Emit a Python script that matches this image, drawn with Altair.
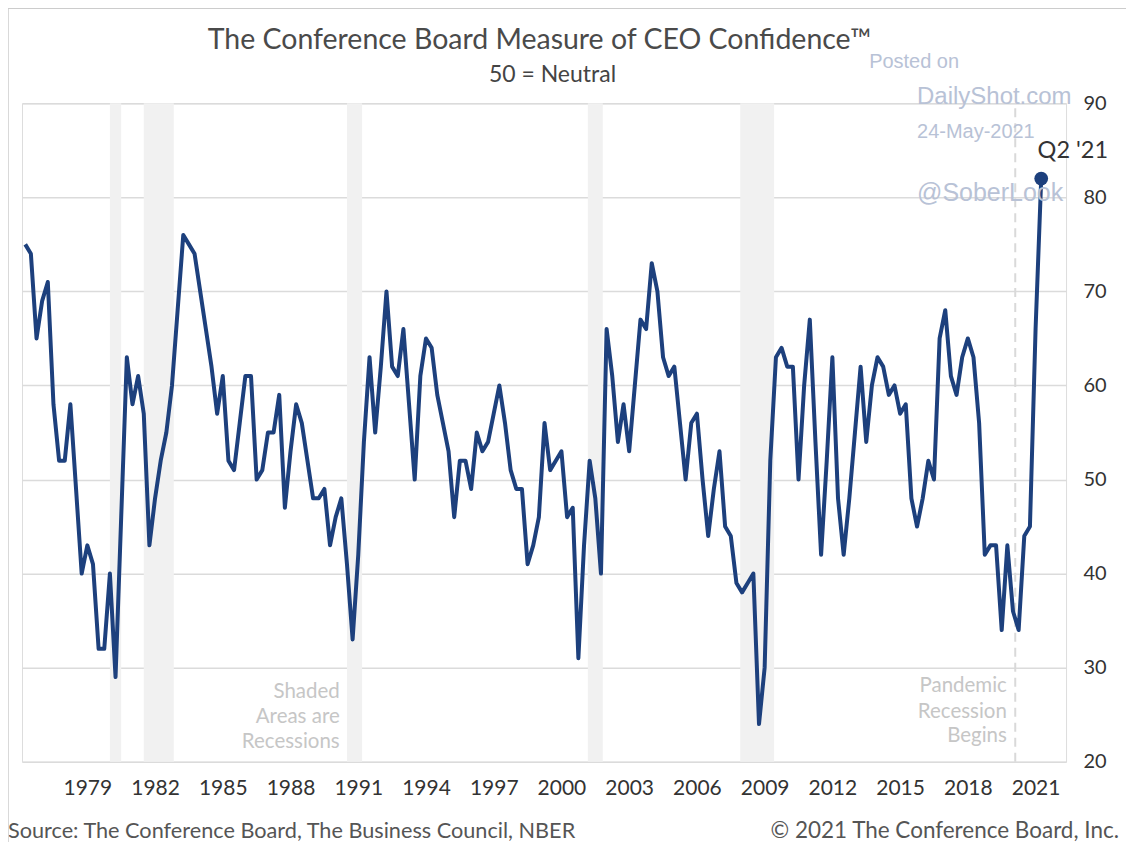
import altair as alt
import pandas as pd

# ---------------- data (quarterly, 1976 Q2 .. 2021 Q2) ----------------
first_period = 1976.25          # 1976 Q2
confidence = [
    75, 74, 65,                 # 1976 Q2-Q4
    69, 71, 58, 52,             # 1977
    52, 58, 49, 40,             # 1978
    43, 41, 32, 32,             # 1979
    40, 29, 46, 63,             # 1980
    58, 61, 57, 43,             # 1981
    48, 52, 55, 60,             # 1982
    68, 76, 75, 74,             # 1983
    70, 66, 62, 57,             # 1984
    61, 52, 51, 56,             # 1985
    61, 61, 50, 51,             # 1986
    55, 55, 59, 47,             # 1987
    53, 58, 56, 52,             # 1988
    48, 48, 49, 43,             # 1989
    46, 48, 41, 33,             # 1990
    42, 54, 63, 55,             # 1991
    62, 70, 62, 61,             # 1992
    66, 58, 50, 61,             # 1993
    65, 64, 59, 56,             # 1994
    53, 46, 52, 52,             # 1995
    49, 55, 53, 54,             # 1996
    57, 60, 56, 51,             # 1997
    49, 49, 41, 43,             # 1998
    46, 56, 51, 52,             # 1999
    53, 46, 47, 31,             # 2000
    43, 52, 48, 40,             # 2001
    66, 61, 54, 58,             # 2002
    53, 60, 67, 66,             # 2003
    73, 70, 63, 61,             # 2004
    62, 56, 50, 56,             # 2005
    57, 50, 44, 49,             # 2006
    53, 45, 44, 39,             # 2007
    38, 39, 40, 24,             # 2008
    30, 52, 63, 64,             # 2009
    62, 62, 50, 60,             # 2010
    67, 54, 42, 52,             # 2011
    63, 48, 42, 48,             # 2012
    55, 62, 54, 60,             # 2013
    63, 62, 59, 60,             # 2014
    57, 58, 48, 45,             # 2015
    48, 52, 50, 65,             # 2016
    68, 61, 59, 63,             # 2017
    65, 63, 56, 42,             # 2018
    43, 43, 34, 43,             # 2019
    36, 34, 44, 45,             # 2020
    66, 82,                     # 2021 Q1-Q2
]

rec_start = [1980.0, 1981.5, 1990.5, 2001.17, 2007.92]
rec_end = [1980.5, 1982.83, 1991.17, 2001.83, 2009.42]
pandemic_start = 2020.1

tick_years = list(range(1979, 2022, 3))
y_ticks = [20, 30, 40, 50, 60, 70, 80, 90]

# ---------------- tables ----------------
periods = [first_period + 0.25 * i for i in range(len(confidence))]
df = pd.DataFrame({"t": periods, "v": confidence})
last = df.tail(1)
rec = pd.DataFrame({"s": rec_start, "e": rec_end, "lo": 20, "hi": 90})
pand = pd.DataFrame({"t": [pandemic_start], "lo": [20], "hi": [90]})

notes = pd.DataFrame({
    "t": [1990.18, 1990.18, 1990.18, 2019.73, 2019.73, 2019.73],
    "v": [27.4, 24.8, 22.1, 28.0, 25.3, 22.7],
    "label": ["Shaded", "Areas are", "Recessions", "Pandemic", "Recession", "Begins"],
})
q2 = pd.DataFrame({"t": [2022.65], "v": [84.9], "label": ["Q2 '21"]})
wm_center = pd.DataFrame({"t": [2015.62], "v": [94.4], "label": ["Posted on"]})
wm_left = pd.DataFrame({
    "t": [2015.75, 2015.75, 2015.75],
    "v": [90.7, 87.0, 80.5],
    "label": ["DailyShot.com", "24-May-2021", "@SoberLook"],
    "size": [24, 20, 25],
})

FONT = "Lato"
NAVY = "#1d407d"
WM = "#b8c2d6"

xscale = alt.Scale(domain=[1976.106, 2022.35], nice=False, zero=False)
yscale = alt.Scale(domain=[20, 90], nice=False, zero=False)
xaxis = alt.Axis(values=tick_years, format="d", ticks=False, domain=False, grid=False,
                 labelFontSize=21, labelColor="#333333", labelPadding=16, labelFont=FONT)
yaxis = alt.Axis(values=y_ticks, orient="right", ticks=False, domain=False, grid=True,
                 gridColor="#dbdbdb", gridWidth=1.5, labelFontSize=20, labelColor="#333333",
                 labelPadding=17, labelFont=FONT)


def X(f):
    return alt.X(f, type="quantitative", scale=xscale, axis=xaxis, title=None)


def Y(f):
    return alt.Y(f, type="quantitative", scale=yscale, axis=yaxis, title=None)


shade = alt.Chart(rec).mark_rect(color="#f1f1f1").encode(
    x=X("s"), x2="e", y=Y("lo"), y2="hi")

pline = alt.Chart(pand).mark_rule(color="#d9d9d9", strokeWidth=2, strokeDash=[9, 6]).encode(
    x=X("t"), y=Y("lo"), y2="hi")

line = alt.Chart(df).mark_line(color=NAVY, strokeWidth=4, strokeJoin="round").encode(
    x=X("t"), y=Y("v"))

dot = alt.Chart(last).mark_point(filled=True, color=NAVY, size=190, opacity=1).encode(
    x=X("t"), y=Y("v"))

note_txt = alt.Chart(notes).mark_text(align="right", baseline="middle", font=FONT,
                                      fontSize=20.5, color="#c6c6c6").encode(
    x=X("t"), y=Y("v"), text="label:N")

q2_txt = alt.Chart(q2).mark_text(align="center", baseline="middle", font=FONT,
                                 fontSize=23.5, color="#333333").encode(
    x=X("t"), y=Y("v"), text="label:N")

wm_c = alt.Chart(wm_center).mark_text(align="center", baseline="middle",
                                      font="Liberation Sans", fontSize=20, color=WM).encode(
    x=X("t"), y=Y("v"), text="label:N")
wm_l = alt.Chart(wm_left).mark_text(align="left", baseline="middle",
                                    font="Liberation Sans", color=WM).encode(
    x=X("t"), y=Y("v"), text="label:N", size=alt.Size("size:Q", scale=None, legend=None))

# titles and footer texts (pixel positions relative to the plot origin)
title_txt = alt.Chart(pd.DataFrame({"label": ["The Conference Board Measure of CEO Confidence\u2122"]})
                      ).mark_text(align="center", baseline="middle", font=FONT, fontSize=28.5,
                                  color="#4a4a4a").encode(
    x=alt.value(518), y=alt.value(-63), text="label:N")
sub_txt = alt.Chart(pd.DataFrame({"label": ["50 = Neutral"]})).mark_text(
    align="center", baseline="middle", font=FONT, fontSize=23, color="#444444").encode(
    x=alt.value(531), y=alt.value(-28), text="label:N")
src_txt = alt.Chart(pd.DataFrame({"label": ["Source: The Conference Board, The Business Council, NBER"]})
                    ).mark_text(align="left", baseline="middle", font=FONT, fontSize=21.7,
                                color="#555555").encode(
    x=alt.value(-14), y=alt.value(728), text="label:N")
copy_txt = alt.Chart(pd.DataFrame({"label": ["\u00a9 2021 The Conference Board, Inc."]})
                     ).mark_text(align="right", baseline="middle", font=FONT, fontSize=22.5,
                                 color="#555555").encode(
    x=alt.value(1098), y=alt.value(728), text="label:N")

frame_l = alt.Chart(pd.DataFrame({"a": [0]})).mark_rule(color="#cccccc", strokeWidth=1.5).encode(
    x=alt.value(-14), y=alt.value(-95), y2=alt.value(760))
frame_t = alt.Chart(pd.DataFrame({"a": [0]})).mark_rule(color="#cccccc", strokeWidth=1.5).encode(
    x=alt.value(-14), x2=alt.value(1110), y=alt.value(-95))

chart = alt.layer(
    shade, pline, line, dot, note_txt, q2_txt, wm_c, wm_l,
    title_txt, sub_txt, src_txt, copy_txt, frame_l, frame_t,
).properties(
    width=1045, height=659,
    padding={"left": 14, "top": 95, "right": 60, "bottom": 80},
    autosize=alt.AutoSizeParams(type="none"),
).configure_view(stroke=None).configure(background="white")

chart.save("out.html", embed_options={"renderer": "svg", "actions": False})
